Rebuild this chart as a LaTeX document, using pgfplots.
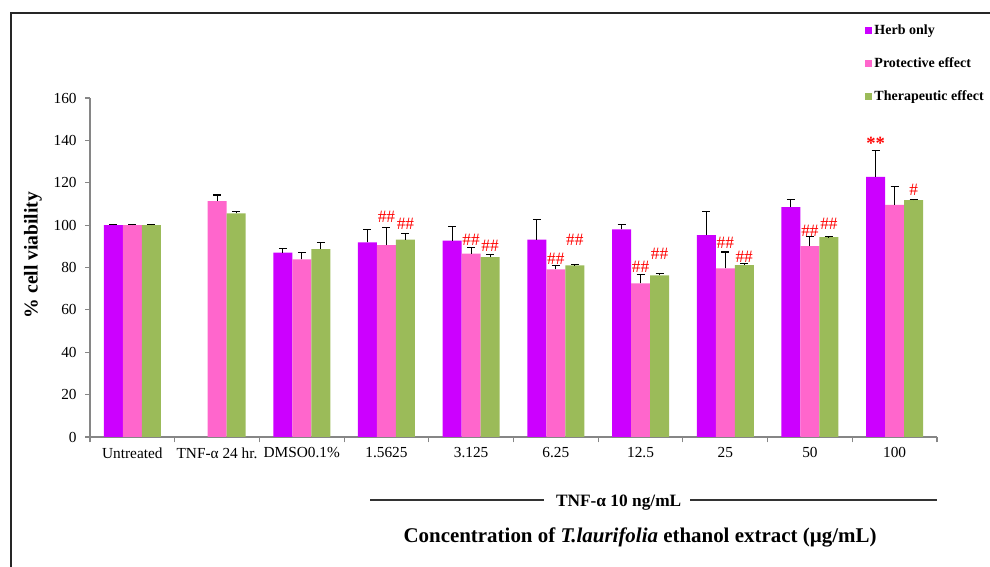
\documentclass[border=0pt]{standalone}
\usepackage{fontspec}
\setmainfont{Liberation Serif}
\usepackage{pgfplots}
\usepackage{pgfplotstable}
\pgfplotsset{compat=1.18}
\definecolor{herb}{HTML}{CC00FF}
\definecolor{prot}{HTML}{FF66CC}
\definecolor{ther}{HTML}{9BBB59}
\definecolor{axgray}{HTML}{868686}
\pgfplotstableread{
x herb herbe prot prote ther there
0 100 0.5 100 0.5 100 0.5
1 nan nan 111.3 2.9 105.5 0.8
2 87.0 2.0 83.8 3.2 88.7 3.0
3 91.8 6.0 90.6 8.3 93.2 3.0
4 92.7 6.6 86.5 2.8 84.9 1.3
5 93.2 9.3 79.1 1.7 81.0 0.3
6 98.0 2.5 72.5 4.1 76.3 0.9
7 95.3 11.2 79.6 7.7 81.1 0.8
8 108.5 3.6 90.1 4.4 94.3 0.3
9 122.8 12.6 109.6 8.8 111.8 0.3
}\data
\begin{document}
\begin{tikzpicture}
\useasboundingbox (0,0) rectangle (742.5pt,425.25pt);
\draw[line width=1.1pt, black!85] (8.25pt,-1pt) -- (8.25pt,415.5pt) -- (745pt,415.5pt);
\begin{axis}[
  at={(67.5pt,97.5pt)}, anchor=south west,
  scale only axis, width=635.25pt, height=254.25pt,
  xmin=-0.5, xmax=9.5, ymin=0, ymax=160,
  axis x line*=bottom, axis y line*=left,
  axis line style={axgray, line width=0.8pt},
  ybar=0pt, bar width=14.25pt,
  ytick={0,20,...,160},
  xtick={0,...,9},
  xticklabels={Untreated, TNF-α 24 hr., DMSO0.1\%, 1.5625, 3.125, 6.25, 12.5, 25, 50, 100},
  minor xtick={-0.5,0.5,...,9.5},
  major x tick style={draw=none},
  minor x tick style={axgray, line width=0.8pt},
  minor tick length=4pt,
  y tick style={axgray, line width=0.8pt},
  major tick length=3.5pt,
  tick align=outside,
  ticklabel style={font=\fontsize{11.5}{13}\selectfont, black},
  /pgf/number format/assume math mode=true,
  xticklabel style={yshift=-1pt},
  yticklabel style={xshift=-3pt},
  legend style={at={(0.915,1.222)}, anchor=north west, draw=none, fill=none,
    font=\bfseries\fontsize{10.5}{13}\selectfont, row sep=12.8pt, inner sep=0pt,
    nodes={inner sep=1.5pt}},
  legend cell align=left,
  legend image code/.code={\fill[#1] (0pt,-2.7pt) rectangle (5.4pt,2.7pt);},
  error bars/y dir=plus, error bars/y explicit,
  error bars/error bar style={black, line width=0.8pt},
  error bars/error mark options={rotate=90, mark size=3pt, black, line width=0.8pt},
]
\addplot[fill=herb, draw=none] table[x=x, y=herb, y error=herbe] {\data};
\addplot[fill=prot, draw=none] table[x=x, y=prot, y error=prote] {\data};
\addplot[fill=ther, draw=none] table[x=x, y=ther, y error=there] {\data};
\legend{Herb only, Protective effect, Therapeutic effect}
\begin{scope}[every node/.style={red, anchor=south, inner sep=0pt, font=\fontsize{13}{14}\selectfont}]
\node at (axis cs:3,101.1) {\#\#};
\node at (axis cs:3.224,97.9) {\#\#};
\node at (axis cs:4,90.4) {\#\#};
\node at (axis cs:4.224,87.4) {\#\#};
\node at (axis cs:5,81.1) {\#\#};
\node at (axis cs:5.224,90.2) {\#\#};
\node at (axis cs:6,77.5) {\#\#};
\node at (axis cs:6.224,83.8) {\#\#};
\node at (axis cs:7,89.0) {\#\#};
\node at (axis cs:7.224,82.4) {\#\#};
\node at (axis cs:8,94.5) {\#\#};
\node at (axis cs:8.224,97.6) {\#\#};
\node at (axis cs:9.224,113.8) {\#};
\node[font=\bfseries\fontsize{14}{15}\selectfont] at (axis cs:8.776,135.5) {**};
\end{scope}
\end{axis}
\node[rotate=90, font=\bfseries\fontsize{14.7}{16}\selectfont] at (24.75pt,234pt) {\% cell viability};
\draw[black!80, line width=0.8pt] (277.5pt,50.25pt) -- (408pt,50.25pt);
\draw[black!80, line width=0.8pt] (517.5pt,50.25pt) -- (702.75pt,50.25pt);
\node[font=\bfseries\fontsize{13}{15}\selectfont] at (464pt,48pt) {TNF-α 10 ng/mL};
\node[font=\bfseries\fontsize{15.7}{17}\selectfont] at (480pt,22.5pt) {Concentration of \textit{T.laurifolia} ethanol extract (µg/mL)};
\end{tikzpicture}
\end{document}
